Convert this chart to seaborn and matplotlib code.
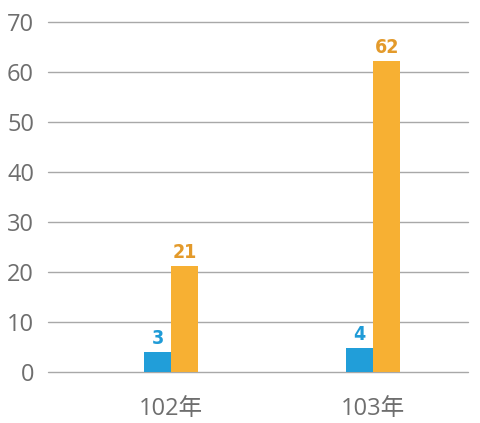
import pandas as pd
import matplotlib
matplotlib.use("Agg")
import matplotlib.pyplot as plt
import seaborn as sns

years = ["102年", "103年"]
series_names = ["a", "b"]
blue_values = [4.0, 4.8]
orange_values = [21.2, 62.2]
blue_labels = ["3", "4"]
orange_labels = ["21", "62"]
y_ticks = [0, 10, 20, 30, 40, 50, 60, 70]

BLUE = "#219ED9"
ORANGE = "#F7B033"
BLUE_TXT = "#1F9BD7"
ORANGE_TXT = "#E39A2B"
GRAY = "#6E6E6E"


def main():
    df = pd.DataFrame({
        "year": years * 2,
        "series": [series_names[0]] * 2 + [series_names[1]] * 2,
        "value": blue_values + orange_values,
    })

    sns.set_style("white")
    plt.rcParams["font.family"] = ["Open Sans", "Noto Sans CJK TC", "DejaVu Sans"]

    fig = plt.figure(figsize=(4.81, 4.23), dpi=100)
    ax = fig.add_axes([48 / 481, 51 / 423, 420 / 481, 350 / 423])

    sns.barplot(data=df, x="year", y="value", hue="series",
                palette=[BLUE, ORANGE], width=0.268, saturation=1,
                linewidth=0, ax=ax, legend=False, zorder=3)

    ax.set_xlim(-0.609, 1.47)
    ax.set_ylim(0, 70)
    ax.set_yticks(y_ticks)
    ax.grid(axis="y", color="#A8A8A8", linewidth=1, zorder=0)
    ax.grid(axis="x", visible=False)
    for gl in ax.get_ygridlines():
        gl.set_clip_on(False)
    for s in ax.spines.values():
        s.set_visible(False)
    ax.tick_params(axis="y", length=0, pad=10, labelsize=17, labelcolor=GRAY)
    ax.tick_params(axis="x", length=0, pad=18, labelsize=17, labelcolor=GRAY)
    ax.set_xlabel("")
    ax.set_ylabel("")

    for cont, labs, col in zip(ax.containers, [blue_labels, orange_labels],
                               [BLUE_TXT, ORANGE_TXT]):
        ax.bar_label(cont, labels=labs, padding=3, color=col,
                     fontsize=14, fontweight="bold", family="DejaVu Sans",
                     fontstretch="condensed")

    fig.savefig("out.png", dpi=100)


if __name__ == "__main__":
    main()
